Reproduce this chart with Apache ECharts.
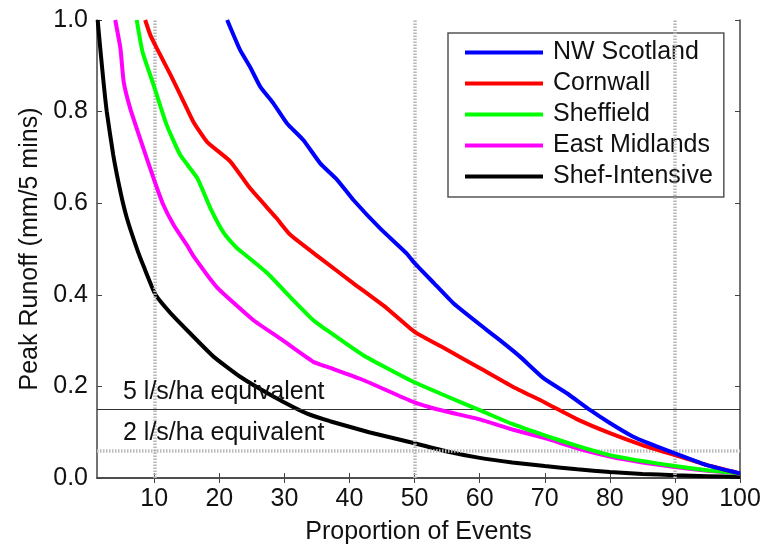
<!DOCTYPE html>
<html>
<head>
<meta charset="utf-8">
<script src="https://cdn.jsdelivr.net/npm/echarts@6/dist/echarts.min.js"></script>
<style>
    html, body { margin: 0; padding: 0; background: #fff; }
    #ech { width: 765px; height: 546px; }
</style>
</head>
<body>
<div id="ech"></div>
<script>
// values: [proportion of events %, peak runoff mm/5 mins]
var nwScotland = [[21.2,1.0],[23.2,0.934],[24.7,0.898],[26.3,0.854],[28.3,0.818],[30.4,0.774],[32.9,0.738],[35.5,0.687],[38.1,0.651],[40.6,0.607],[44.7,0.545],[48.8,0.49],[50,0.469],[53,0.425],[56,0.381],[61.1,0.323],[63.1,0.301],[66.2,0.265],[69.8,0.218],[73.4,0.185],[77,0.148],[80,0.12],[83.6,0.09],[87,0.07],[90,0.054],[94.9,0.028],[100,0.01]];
var cornwall = [[8.6,1.0],[9.4,0.967],[10.4,0.938],[12.5,0.88],[14.5,0.822],[16,0.778],[18.1,0.734],[21.7,0.691],[24.7,0.633],[28.8,0.567],[30.9,0.531],[35.5,0.48],[40.6,0.425],[45.7,0.371],[50,0.319],[55,0.28],[60,0.24],[65,0.2],[70,0.165],[75,0.128],[80,0.098],[85,0.072],[90,0.05],[95,0.028],[100,0.01]];
var sheffield = [[7.3,1.0],[8.2,0.93],[9.9,0.858],[11.9,0.771],[14,0.705],[16.6,0.655],[18.6,0.59],[20.6,0.537],[22.7,0.502],[24,0.487],[27.3,0.448],[31.3,0.389],[34.4,0.345],[36,0.328],[42.1,0.268],[49.8,0.21],[55,0.178],[60,0.148],[65,0.118],[70,0.093],[75,0.07],[80,0.05],[85,0.037],[90,0.026],[95,0.017],[100,0.01]];
var eastMidlands = [[4.0,1.0],[4.8,0.938],[5.3,0.865],[6.3,0.807],[7.8,0.742],[9.9,0.654],[11.4,0.596],[13,0.552],[15,0.509],[16,0.485],[19.6,0.417],[25.2,0.345],[29.5,0.303],[34.4,0.254],[36.5,0.243],[42.1,0.214],[49.8,0.166],[53.4,0.15],[60,0.128],[65,0.106],[70,0.087],[75,0.065],[80,0.047],[85,0.034],[90,0.024],[95,0.016],[100,0.01]];
var shefIntensive = [[1.3,1.0],[1.7,0.938],[2.2,0.865],[2.7,0.8],[3.7,0.705],[4.8,0.625],[5.8,0.567],[7.3,0.502],[8.4,0.461],[10.2,0.4],[12.5,0.36],[15.5,0.316],[19.1,0.265],[23.2,0.221],[28.3,0.178],[33.4,0.141],[37,0.124],[43,0.1],[50,0.076],[55,0.058],[60,0.044],[65,0.034],[70,0.026],[75,0.019],[80,0.013],[85,0.009],[90,0.006],[95,0.004],[100,0.002]];

var seriesNames = ['NW Scotland', 'Cornwall', 'Sheffield', 'East Midlands', 'Shef-Intensive'];
var seriesColors = ['#0000ff', '#ff0000', '#00ff00', '#ff00ff', '#000000'];
var seriesData = [nwScotland, cornwall, sheffield, eastMidlands, shefIntensive];

var xTicks = [10, 20, 30, 40, 50, 60, 70, 80, 90, 100];
var gridX = [10, 50, 90];
var limit5 = 0.15;   // 5 l/s/ha equivalent
var limit2 = 0.06;   // 2 l/s/ha equivalent

var font = 'Liberation Sans, Arial, sans-serif';
var axisColor = '#444';

var myChart = echarts.init(document.getElementById('ech'));

var series = [];
for (var i = 0; i < seriesData.length; i++) {
    series.push({
        name: seriesNames[i],
        type: 'line',
        data: seriesData[i],
        showSymbol: false,
        smooth: 0.15,
        lineStyle: { color: seriesColors[i], width: 4 },
        itemStyle: { color: seriesColors[i] },
        z: 8 - i
    });
}

// reference lines sit under the curves
series.push({
    type: 'line',
    data: [],
    silent: true,
    z: 1,
    markLine: {
        symbol: 'none',
        silent: true,
        animation: false,
        data: [
            { xAxis: gridX[0] }, { xAxis: gridX[1] }, { xAxis: gridX[2] }
        ],
        lineStyle: { color: '#b8b8b8', width: 3.5, type: [1.5, 1.5] },
        label: { show: false }
    }
});
series.push({
    type: 'line',
    data: [],
    silent: true,
    z: 2,
    markLine: {
        symbol: 'none',
        silent: true,
        animation: false,
        data: [
            {
                yAxis: limit5,
                lineStyle: { color: '#333', width: 1.2, type: 'solid' },
                label: { formatter: '5 l/s/ha equivalent' }
            },
            {
                yAxis: limit2,
                lineStyle: { color: '#bcbcbc', width: 3.5, type: [1.5, 1.5] },
                label: { formatter: '2 l/s/ha equivalent' }
            }
        ],
        label: {
            show: true,
            position: 'insideStartTop',
            distance: [26, 5],
            fontFamily: font,
            fontSize: 25,
            color: '#111'
        }
    }
});

var option = {
    animation: false,
    backgroundColor: '#fff',
    grid: { left: 97, right: 25, top: 20, bottom: 68, outerBoundsMode: 'none' },
    legend: {
        data: seriesNames,
        orient: 'vertical',
        left: 448,
        top: 33,
        padding: [7, 11, 8, 17],
        itemWidth: 78,
        itemHeight: 4,
        itemGap: 6,
        icon: 'rect',
        borderColor: '#555',
        borderWidth: 1.5,
        backgroundColor: '#fff',
        textStyle: { fontFamily: font, fontSize: 25, lineHeight: 25, color: '#111', padding: [0, 0, 0, 5] }
    },
    xAxis: [
        {
            type: 'value',
            min: 1.2,
            max: 100,
            name: 'Proportion of Events',
            nameLocation: 'middle',
            nameGap: 42,
            nameTextStyle: { fontFamily: font, fontSize: 25, color: '#111' },
            axisLine: { show: true, lineStyle: { color: axisColor, width: 1.5 } },
            axisTick: { show: true, inside: true, length: 5, customValues: xTicks, lineStyle: { color: axisColor } },
            axisLabel: { customValues: xTicks, margin: 9, fontFamily: font, fontSize: 25, color: '#111' },
            splitLine: { show: false }
        },
        {
            type: 'value',
            position: 'top',
            min: 1.2,
            max: 100,
            axisLine: { show: true, lineStyle: { color: axisColor, width: 1.5 } },
            axisTick: { show: true, inside: true, length: 5, customValues: xTicks, lineStyle: { color: axisColor } },
            axisLabel: { show: false },
            splitLine: { show: false }
        }
    ],
    yAxis: [
        {
            type: 'value',
            min: 0,
            max: 1,
            interval: 0.2,
            name: 'Peak Runoff (mm/5 mins)',
            nameLocation: 'middle',
            nameGap: 54,
            nameTextStyle: { fontFamily: font, fontSize: 25, color: '#111' },
            axisLine: { show: true, lineStyle: { color: axisColor, width: 1.5 } },
            axisTick: { show: true, inside: true, length: 5, lineStyle: { color: axisColor } },
            axisLabel: {
                margin: 9,
                fontFamily: font,
                fontSize: 25,
                color: '#111',
                formatter: function (v) { return v.toFixed(1); }
            },
            splitLine: { show: false }
        },
        {
            type: 'value',
            position: 'right',
            min: 0,
            max: 1,
            interval: 0.2,
            axisLine: { show: true, lineStyle: { color: axisColor, width: 1.5 } },
            axisTick: { show: true, inside: true, length: 5, lineStyle: { color: axisColor } },
            axisLabel: { show: false },
            splitLine: { show: false }
        }
    ],
    series: series
};
myChart.setOption(option);
</script>
</body>
</html>
